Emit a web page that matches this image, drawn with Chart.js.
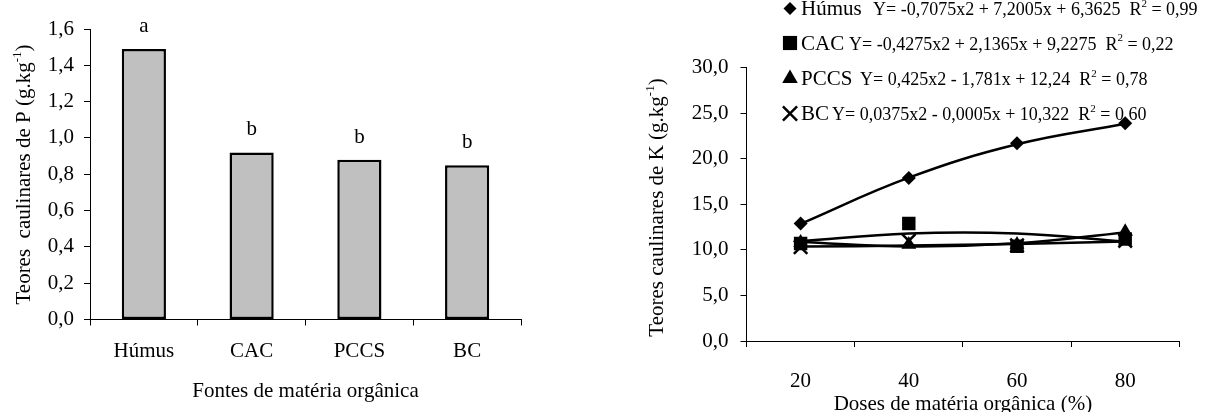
<!DOCTYPE html>
<html>
<head>
<meta charset="utf-8">
<script src="https://cdn.jsdelivr.net/npm/chart.js@4.4.0/dist/chart.umd.min.js"></script>
<style>
    html, body { margin: 0; padding: 0; background: #fff; }
    #wrap { position: relative; width: 1211px; height: 412px; overflow: hidden; }
    .box { position: absolute; top: 0; height: 412px; }
    #boxP { left: 0; width: 560px; }
    #boxK { left: 600px; width: 611px; }
</style>
</head>
<body>
<div id="wrap">
    <div class="box" id="boxP"><canvas id="chartP"></canvas></div>
    <div class="box" id="boxK"><canvas id="chartK"></canvas></div>
</div>
<script>
const fontFamily = '"Liberation Serif", "Times New Roman", Times, serif';

// Left chart: P content by source
const sources = ['Húmus', 'CAC', 'PCCS', 'BC'];
const pValues = [1.49, 0.92, 0.88, 0.85];
const pLetters = ['a', 'b', 'b', 'b'];

// Right chart: K content by dose
const doses = ['20', '40', '60', '80'];
const humusK = [12.9, 17.9, 21.7, 23.9];
const cacK = [10.7, 12.9, 10.4, 11.2];
const pccsK = [10.8, 10.6, 10.6, 12.0];
const bcK = [10.3, 11.0, 10.5, 11.0];

// Trend curve values at each dose (read from the fitted equations)
const humusFit = [12.86, 17.93, 21.59, 23.84];
const cacFit = [10.94, 11.79, 11.79, 10.92];
const pccsFit = [10.88, 10.38, 10.72, 11.92];
const bcFit = [10.36, 10.47, 10.66, 10.92];

const seriesNames = ['Húmus', 'CAC', 'PCCS', 'BC'];
const seriesEquations = [
    ['Y= -0,7075x2 + 7,2005x + 6,3625  R', '2', ' = 0,99'],
    ['Y= -0,4275x2 + 2,1365x + 9,2275  R', '2', ' = 0,22'],
    ['Y= 0,425x2 - 1,781x + 12,24  R', '2', ' = 0,78'],
    ['Y= 0,0375x2 - 0,0005x + 10,322  R', '2', ' = 0,60']
];

const markers = [
    { style: 'rectRot', radius: 7 },
    { style: 'rect', radius: 9.5 },
    { style: 'triangle', radius: 8.5 },
    { style: 'crossRot', radius: 9.5 }
];

// Utility functions
function fmtComma(v) {
    return Number(v).toFixed(1).replace('.', ',');
}

// parts alternate normal / superscript text
function drawSupText(ctx, parts, x, y, size, align) {
    const supSize = Math.round(size * 0.62);
    const widths = parts.map((t, i) => {
        ctx.font = (i % 2 ? supSize : size) + 'px ' + fontFamily;
        return ctx.measureText(t).width;
    });
    const total = widths.reduce((a, b) => a + b, 0);
    let cx = align === 'center' ? x - total / 2 : x;
    ctx.textAlign = 'left';
    ctx.textBaseline = 'alphabetic';
    parts.forEach((t, i) => {
        ctx.font = (i % 2 ? supSize : size) + 'px ' + fontFamily;
        ctx.fillText(t, cx, i % 2 ? y - size * 0.45 : y);
        cx += widths[i];
    });
}

function drawMarker(ctx, style, x, y, r) {
    ctx.beginPath();
    if (style === 'rectRot') {
        ctx.moveTo(x - r, y);
        ctx.lineTo(x, y - r);
        ctx.lineTo(x + r, y);
        ctx.lineTo(x, y + r);
        ctx.closePath();
        ctx.fill();
    } else if (style === 'rect') {
        const s = r * Math.SQRT1_2;
        ctx.rect(x - s, y - s, 2 * s, 2 * s);
        ctx.fill();
    } else if (style === 'triangle') {
        let a = 0;
        ctx.moveTo(x + Math.sin(a) * r, y - Math.cos(a) * r);
        a += 2 * Math.PI / 3;
        ctx.lineTo(x + Math.sin(a) * r, y - Math.cos(a) * r);
        a += 2 * Math.PI / 3;
        ctx.lineTo(x + Math.sin(a) * r, y - Math.cos(a) * r);
        ctx.closePath();
        ctx.fill();
    } else {
        const o = r * Math.SQRT1_2;
        ctx.lineWidth = 2.5;
        ctx.moveTo(x - o, y - o);
        ctx.lineTo(x + o, y + o);
        ctx.moveTo(x - o, y + o);
        ctx.lineTo(x + o, y - o);
        ctx.stroke();
    }
}

function axisFont() {
    return { family: fontFamily, size: 21 };
}

// Extra texts for the P chart
const pExtras = {
    id: 'pExtras',
    afterDatasetsDraw(chart) {
        const ctx = chart.ctx;
        const meta = chart.getDatasetMeta(0);
        ctx.save();
        ctx.fillStyle = '#000';
        ctx.font = '21px ' + fontFamily;
        ctx.textAlign = 'center';
        ctx.textBaseline = 'alphabetic';
        meta.data.forEach((bar, i) => {
            ctx.fillText(pLetters[i], bar.x, bar.y - 17);
        });
        drawSupText(ctx, ['Fontes de matéria orgânica'], (chart.chartArea.left + chart.chartArea.right) / 2, 397, 21, 'center');
        ctx.translate(30, 174.5);
        ctx.rotate(-Math.PI / 2);
        drawSupText(ctx, ['Teores  caulinares de P (g.kg', '-1', ')'], 0, 0, 21, 'center');
        ctx.restore();
    }
};

// Extra texts and legend for the K chart
const kExtras = {
    id: 'kExtras',
    afterDraw(chart) {
        const ctx = chart.ctx;
        const rowBase = [15, 49.5, 85, 120];
        const eqX = [273, 249, 260, 232];
        const legendRadius = [6.5, 10, 9, 10];
        ctx.save();
        ctx.fillStyle = '#000';
        ctx.strokeStyle = '#000';
        seriesNames.forEach((name, i) => {
            drawMarker(ctx, markers[i].style, 190, rowBase[i] - 6.5, legendRadius[i]);
            drawSupText(ctx, [name], 201, rowBase[i], 21, 'left');
            drawSupText(ctx, seriesEquations[i], eqX[i], rowBase[i], 18, 'left');
        });
        drawSupText(ctx, ['Doses de matéria orgânica (%)'], (chart.chartArea.left + chart.chartArea.right) / 2, 410, 21, 'center');
        ctx.translate(63, 207.5);
        ctx.rotate(-Math.PI / 2);
        drawSupText(ctx, ['Teores caulinares de K (g.kg', '-1', ')'], 0, 0, 21, 'center');
        ctx.restore();
    }
};

// P bar chart
new Chart(document.getElementById('chartP'), {
    type: 'bar',
    data: {
        labels: sources,
        datasets: [{
            data: pValues,
            backgroundColor: '#c0c0c0',
            borderColor: '#000',
            borderWidth: 2.5,
            borderSkipped: false,
            barPercentage: 0.41,
            categoryPercentage: 1
        }]
    },
    options: {
        responsive: true,
        maintainAspectRatio: false,
        animation: false,
        layout: { padding: { left: 0, right: 39, top: 29, bottom: 0 } },
        plugins: {
            legend: { display: false },
            tooltip: { enabled: false }
        },
        scales: {
            x: {
                grid: { offset: true, drawOnChartArea: false, tickLength: 6, color: '#000' },
                border: { color: '#000', width: 1 },
                ticks: { color: '#000', font: axisFont(), padding: 13.6 },
                afterFit: function(scale) { scale.height = 92.5; }
            },
            y: {
                min: 0,
                max: 1.6,
                grid: { drawOnChartArea: false, tickLength: 6, color: '#000' },
                border: { color: '#000', width: 1 },
                ticks: {
                    stepSize: 0.2,
                    color: '#000',
                    font: axisFont(),
                    padding: 10,
                    callback: function(value) { return fmtComma(value); }
                },
                afterFit: function(scale) { scale.width = 90; }
            }
        }
    },
    plugins: [pExtras]
});

// K chart: fitted curves + markers
const fits = [humusFit, cacFit, pccsFit, bcFit];
const points = [humusK, cacK, pccsK, bcK];
const kDatasets = [];
points.forEach((vals, i) => {
    kDatasets.push({
        label: seriesNames[i],
        data: vals,
        showLine: false,
        pointStyle: markers[i].style,
        pointRadius: markers[i].radius,
        pointBackgroundColor: '#000',
        pointBorderColor: '#000',
        pointBorderWidth: markers[i].style === 'crossRot' ? 2.5 : 0,
        order: 0
    });
});
fits.forEach((vals, i) => {
    kDatasets.push({
        label: seriesNames[i] + ' fit',
        data: vals,
        borderColor: '#000',
        borderWidth: 2.5,
        pointRadius: 0,
        tension: 0.4,
        fill: false,
        order: 1
    });
});

new Chart(document.getElementById('chartK'), {
    type: 'line',
    data: { labels: doses, datasets: kDatasets },
    options: {
        responsive: true,
        maintainAspectRatio: false,
        animation: false,
        layout: { padding: { left: 0, right: 31.7, top: 67.7, bottom: 0 } },
        plugins: {
            legend: { display: false },
            tooltip: { enabled: false }
        },
        scales: {
            x: {
                offset: true,
                grid: { offset: true, drawOnChartArea: false, tickLength: 6, color: '#000' },
                border: { color: '#000', width: 1 },
                ticks: { color: '#000', font: axisFont(), padding: 21.6 },
                afterFit: function(scale) { scale.height = 71; }
            },
            y: {
                min: 0,
                max: 30,
                grid: { drawOnChartArea: false, tickLength: 6, color: '#000' },
                border: { color: '#000', width: 1 },
                ticks: {
                    stepSize: 5,
                    color: '#000',
                    font: axisFont(),
                    padding: 12,
                    callback: function(value) { return fmtComma(value); }
                },
                afterFit: function(scale) { scale.width = 146.5; }
            }
        }
    },
    plugins: [kExtras]
});
</script>
</body>
</html>
